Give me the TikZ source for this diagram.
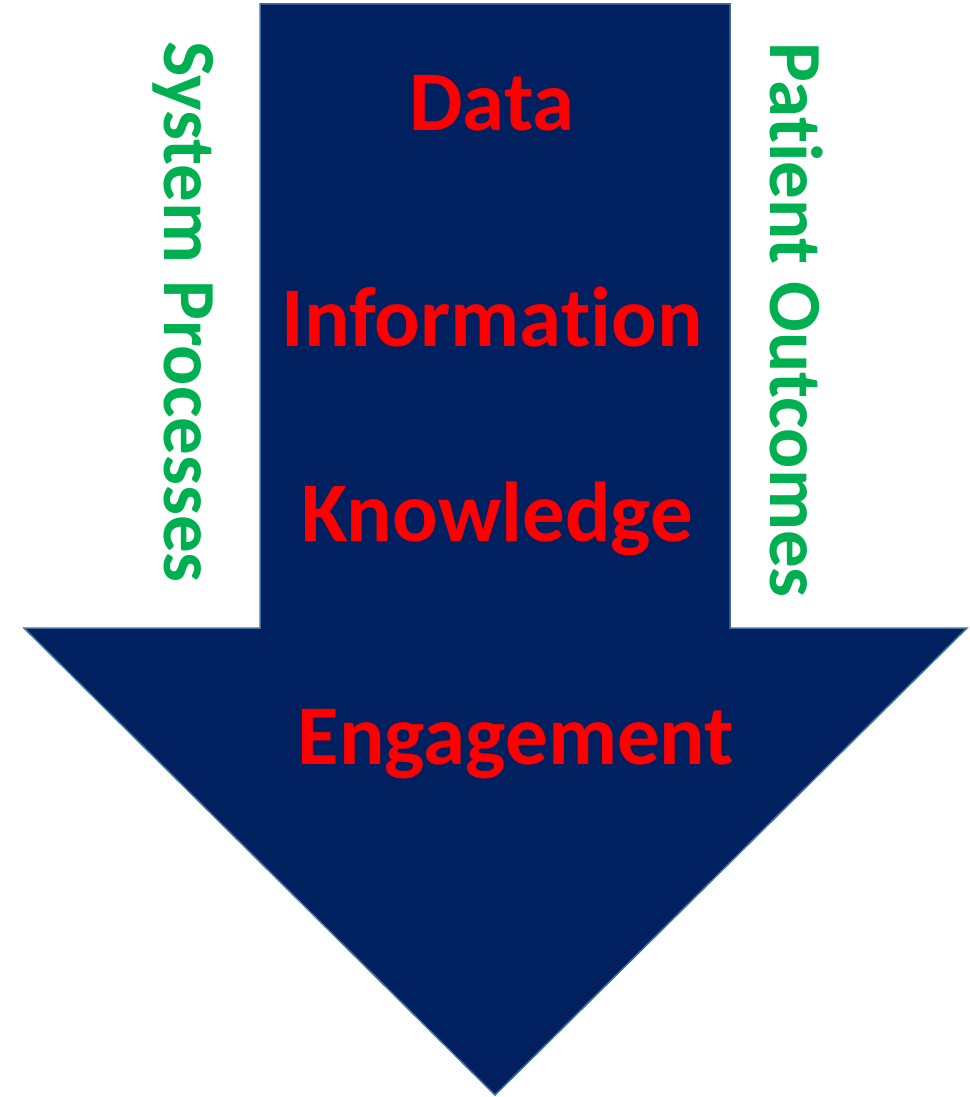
\documentclass[tikz,border=0pt]{standalone}
\usepackage{fontspec}
\setmainfont[Ligatures=NoCommon]{Carlito}
\usepackage{tikz}
\usetikzlibrary{calc}

\definecolor{arrowfill}{RGB}{0,32,96}
\definecolor{arrowline}{RGB}{65,113,156}
\definecolor{stepred}{RGB}{255,0,0}
\definecolor{sidegreen}{RGB}{0,176,80}

\begin{document}
\begin{tikzpicture}[x=1pt,y=-1pt]
            \useasboundingbox (0,0) rectangle (969,1097);
            \begin{scope}
              \tikzset{stage/.style = {text=stepred, font=\fontsize{85}{85}\selectfont\bfseries, inner sep=0pt}}
              \tikzset{side/.style = {text=sidegreen, font=\fontsize{75}{75}\selectfont\bfseries, inner sep=0pt, rotate=-90}}

              % the big arrow
              \coordinate (tl) at (260, 4);
              \coordinate (tr) at (730, 4);
              \coordinate (sr) at (730, 628);
              \coordinate (hr) at (967, 628);
              \coordinate (tip) at (495, 1095);
              \coordinate (hl) at (24, 628);
              \coordinate (sl) at (260, 628);
              \draw[fill=arrowfill, draw=arrowline, line width=1.5pt, line join=miter]
                (tl) -- (tr) -- (sr) -- (hr) -- (tip) -- (hl) -- (sl) -- cycle;

              \node[stage] (data) at (492, 103) {Data};
              \node[stage] (info) at (492, 317) {Information};
              \node[stage] (know) at (497, 519) {Knowledge};
              \node[stage] (enga) at (516, 744) {Engagement};

              \node[side] (sys) at (183, 312) {System Processes};
              \node[side] (pat) at (797, 320) {Patient Outcomes};
            \end{scope}
          \end{tikzpicture}
\end{document}
